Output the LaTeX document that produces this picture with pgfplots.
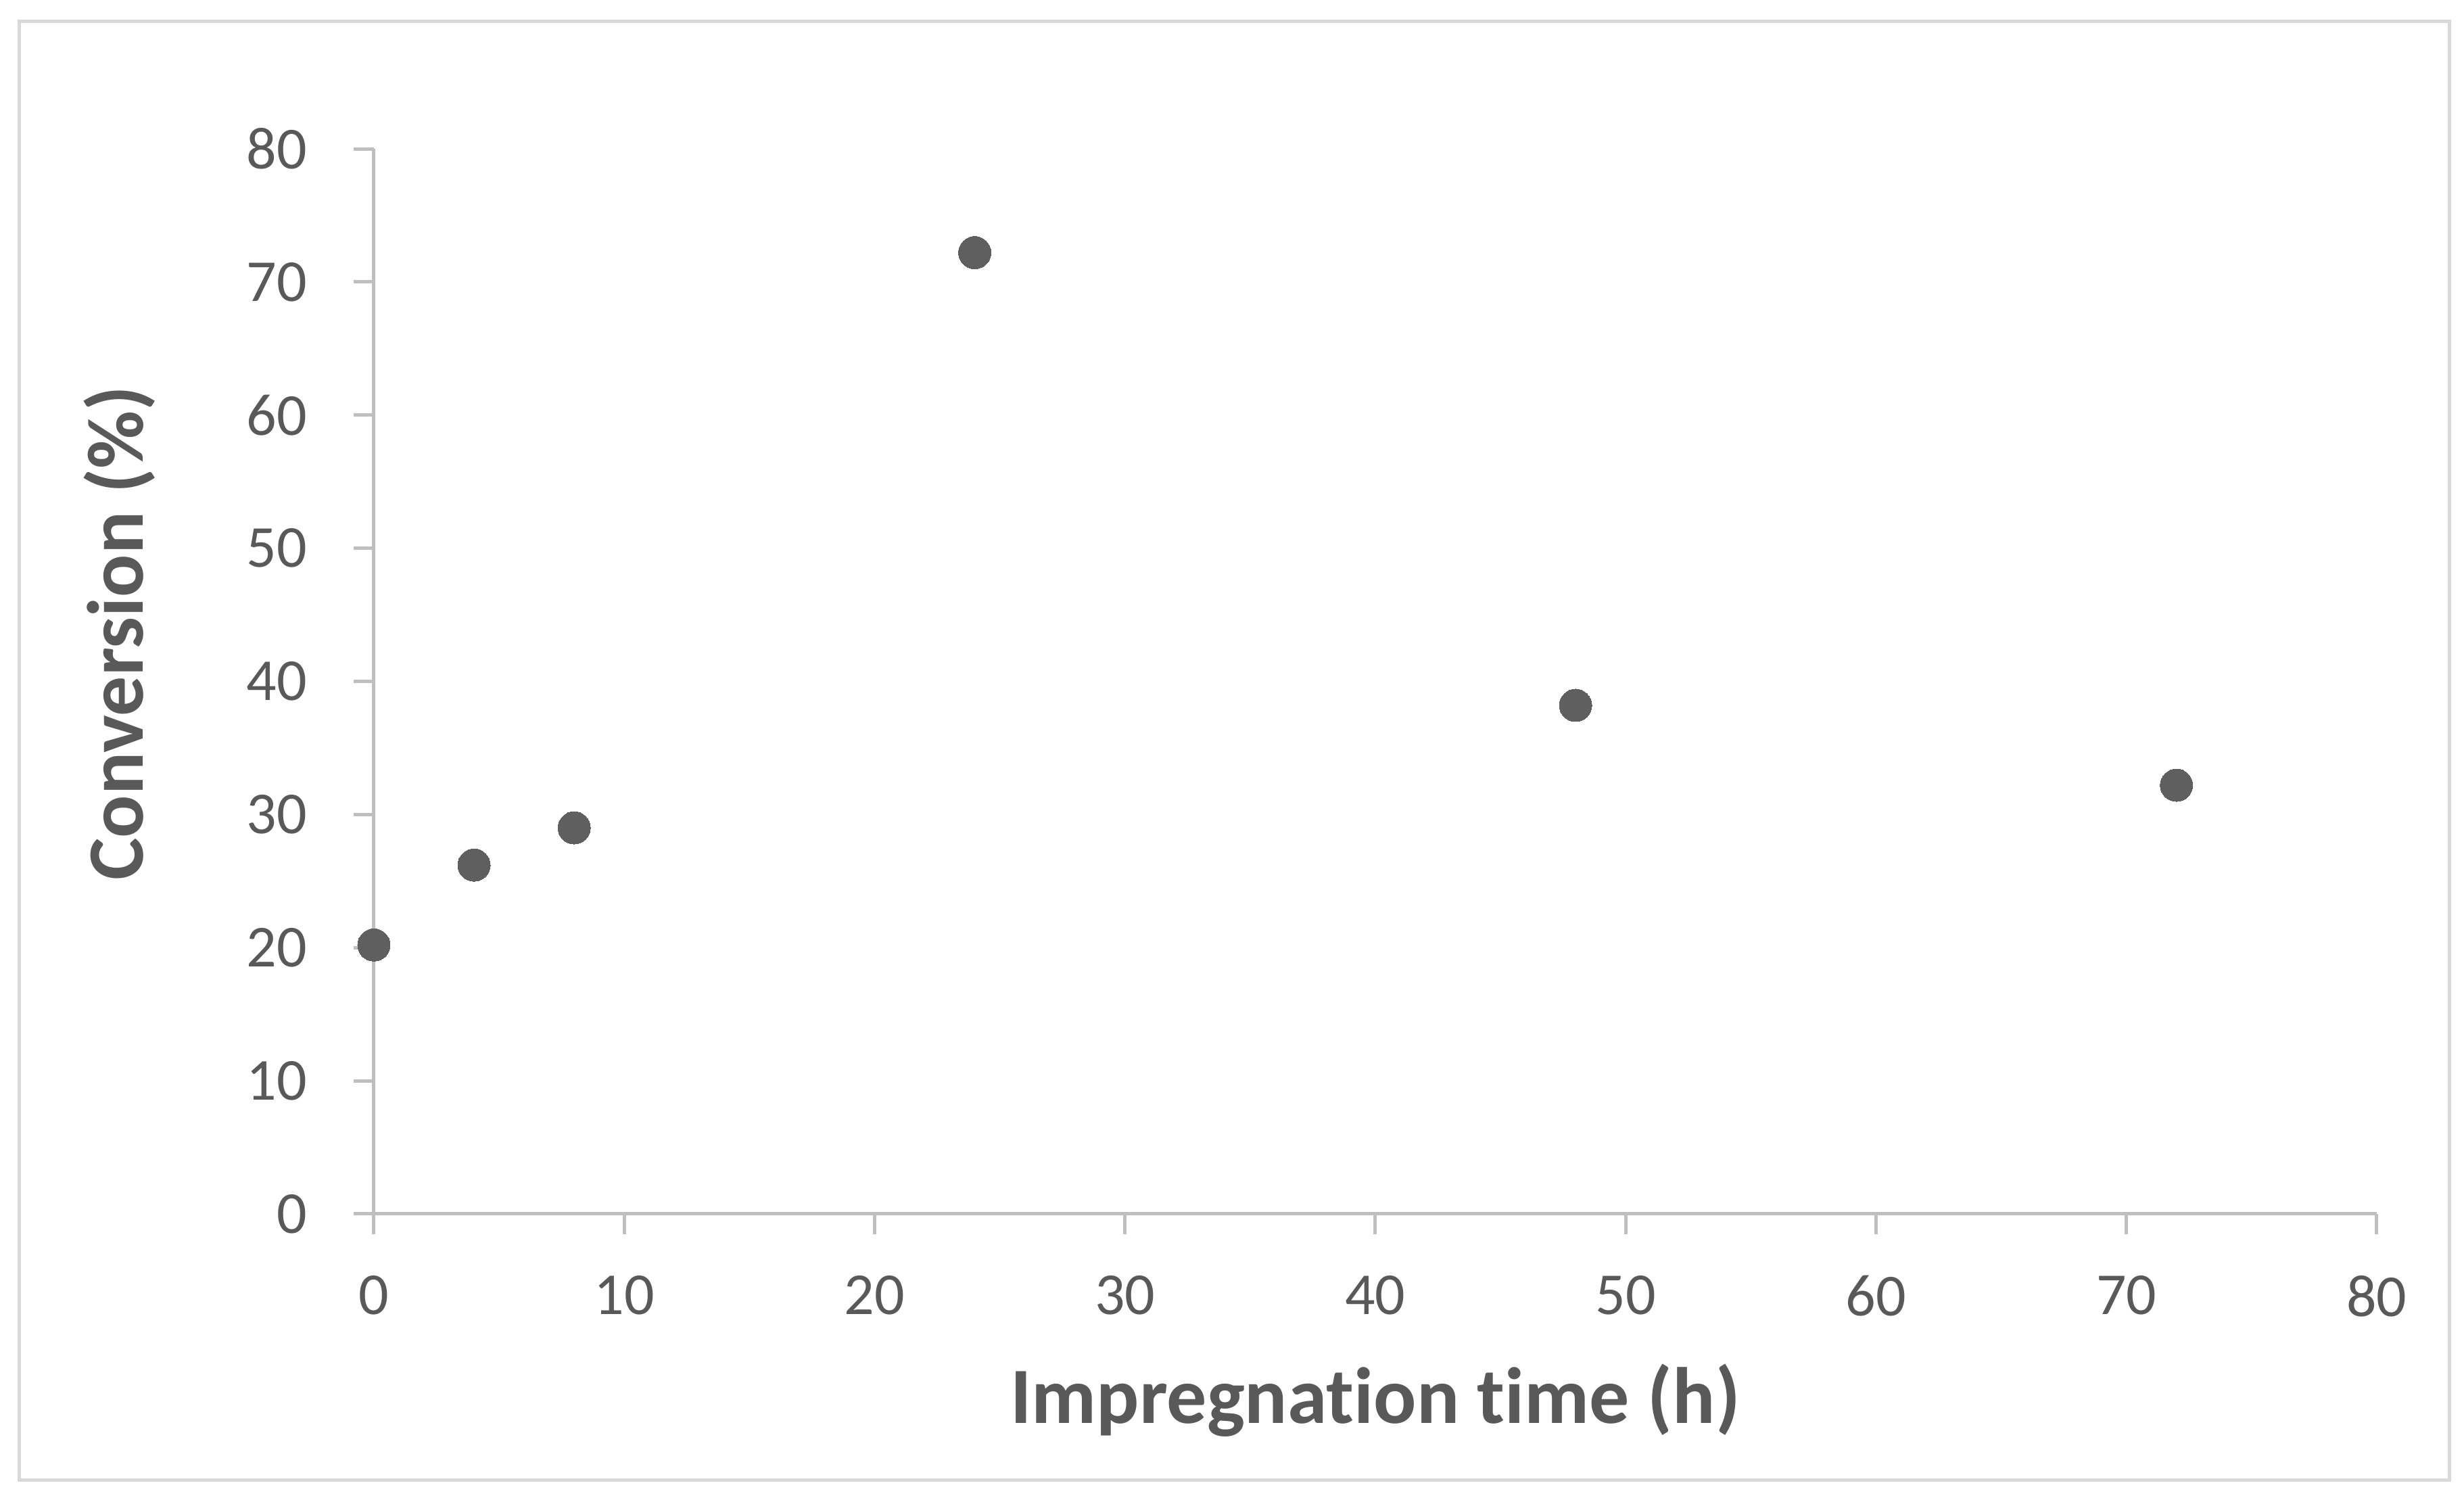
\documentclass[border=0pt]{standalone}
\usepackage{fontspec}
\setmainfont{Carlito}[Ligatures={NoCommon,NoRare,NoContextual}]
\usepackage{pgfplots}
\pgfplotsset{compat=1.18}
\definecolor{txt}{HTML}{595959}
\definecolor{axl}{HTML}{BFBFBF}
\definecolor{frm}{HTML}{D9D9D9}
\definecolor{dot}{HTML}{5F5F5F}
\begin{document}
\begin{tikzpicture}
\path[use as bounding box] (0,0) rectangle (364.4pt,221.5pt);
\fill[white] (0,0) rectangle (364.4pt,221.5pt);
\draw[frm, line width=0.5pt] (2.8pt,2.6pt) rectangle (362.2pt,218.3pt);
\begin{axis}[
  at={(55.3pt,42pt)}, anchor=south west,
  scale only axis, width=296.2pt, height=157.5pt,
  xmin=0,xmax=80,ymin=0,ymax=80,
  xtick={0,10,...,80}, ytick={0,10,...,80},
  axis lines=left, axis line style={-, axl, line width=0.5pt},
  tick align=outside, major tick length=3pt, tick style={axl, line width=0.5pt},
  /pgf/number format/assume math mode=true,
  tick label style={font=\fontsize{8.8}{10}\selectfont, text=txt},
  yticklabel style={xshift=-3.4pt},
  xticklabel style={yshift=-2.6pt},
  xlabel={Impregnation time (h)}, ylabel={Conversion (\%)},
  label style={font=\bfseries\fontsize{11.8}{13}\selectfont, text=txt},
  xlabel style={at={([yshift=-31pt]axis description cs:0.5,0)}, anchor=base},
  ylabel style={at={([xshift=-34.1pt]axis description cs:0,0.5454)}, anchor=base},
  clip=false,
]
\addplot[only marks, mark=*, mark size=2.4pt, mark options={fill=dot, draw=dot, line width=0pt}] coordinates {(0,20.2)(4,26.2)(8,29.0)(24,72.2)(48,38.2)(72,32.2)};
\end{axis}
\end{tikzpicture}
\end{document}
